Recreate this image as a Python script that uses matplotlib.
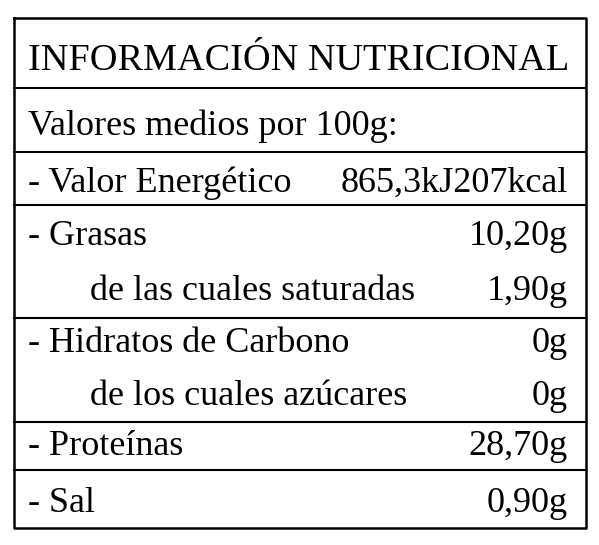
import matplotlib
matplotlib.use("Agg")
import matplotlib.pyplot as plt

title = "INFORMACIÓN NUTRICIONAL"
subtitle = "Valores medios por 100g:"
labels = ["- Valor Energético", "- Grasas", "de las cuales saturadas",
          "- Hidratos de Carbono", "de los cuales azúcares", "- Proteínas", "- Sal"]
values = ["865,3kJ207kcal", "10,20g", "1,90g", "0g", "0g", "28,70g", "0,90g"]
indent = [False, False, True, False, True, False, False]
baselines = [192, 245, 300, 352, 405, 455, 512]
hlines = [88, 152, 205, 318, 422, 470]

fig = plt.figure(figsize=(5.99, 5.45), dpi=100)
ax = fig.add_axes([0, 0, 1, 1])
ax.set_xlim(0, 599); ax.set_ylim(545, 0); ax.axis("off")
fam = "Liberation Serif"
ax.plot([14, 586, 586, 14, 14], [18, 18, 528, 528, 18], color="black", lw=1.8)
for y in hlines:
    ax.plot([14, 586], [y, y], color="black", lw=1.5)
ax.text(28, 70, title, fontsize=27.5, family=fam, va="baseline")
ax.text(28, 135, subtitle, fontsize=26, family=fam, va="baseline")
for lab, val, ind, yb in zip(labels, values, indent, baselines):
    ax.text(90 if ind else 28, yb, lab, fontsize=26, family=fam, va="baseline")
    ax.text(568, yb, val, fontsize=26, family=fam, va="baseline", ha="right")
fig.savefig("out.png", dpi=100)
